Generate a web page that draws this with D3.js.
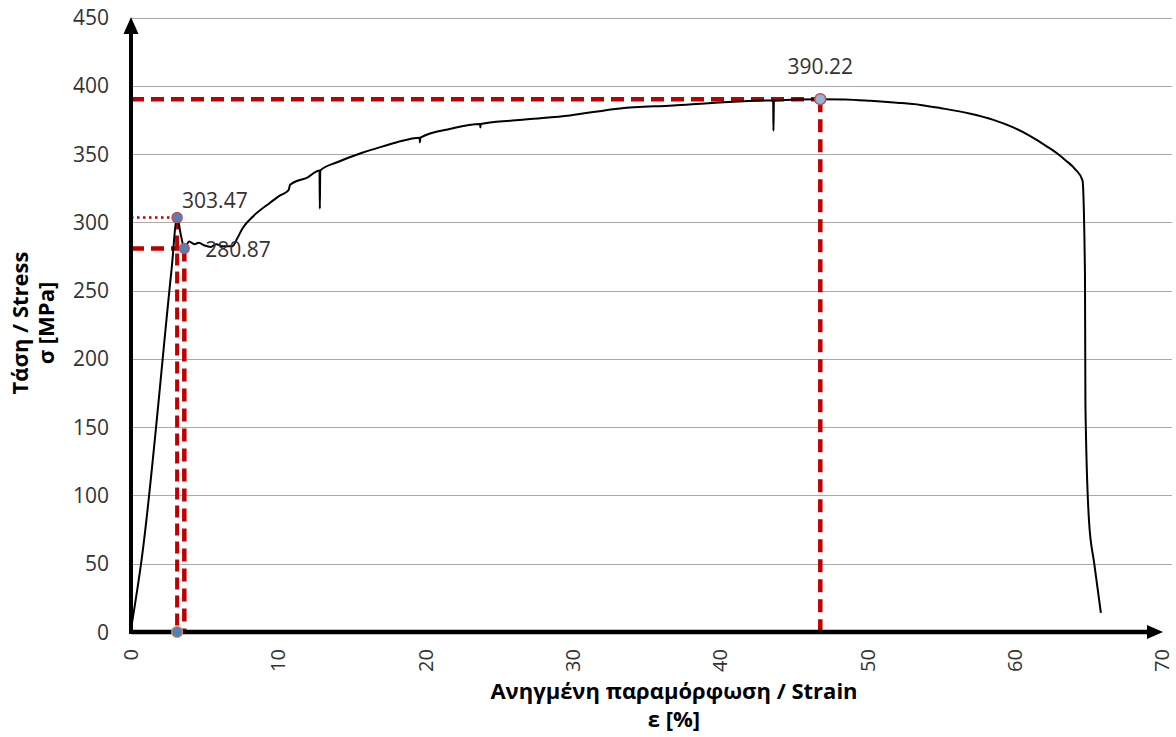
<!DOCTYPE html>
<html>
<head>
<meta charset="utf-8">
<script src="https://cdn.jsdelivr.net/npm/d3@7"></script>
<style>
  html, body { margin: 0; padding: 0; background: #ffffff; }
  svg { display: block; }
  text { font-family: "Open Sans", "Noto Sans", sans-serif; }
</style>
</head>
<body>
<svg id="chart" width="1176" height="737"></svg>
<script>
// Tensile test curve: engineering strain [%] vs stress [MPa]
const strain = [
  0, 0.72, 2.75, 3.13, 3.4, 3.62, 3.95, 4.3, 4.6, 5.0, 5.4, 5.8, 6.2, 6.9, 7.2, 7.6,
  8.3, 9.4, 10.1, 10.7, 10.8, 12.0, 12.8, 12.82, 12.85, 14.0, 15.7, 16.6, 18.0,
  19.6, 19.62, 19.65, 21.7, 23.7, 23.72, 23.75, 25.9, 26.9, 29.8, 33.2, 36.8, 40.0,
  43.6, 43.62, 43.65, 46.8, 48.5, 50.2, 52.0, 53.6, 55.0, 57.0, 58.5, 59.9, 61.0,
  62.2, 63.0, 63.5, 64.1, 64.6, 64.77, 64.8, 65.04, 65.4, 65.85
];
const stress = [
  2, 53, 265, 303.47, 290, 280.87, 286, 284, 285, 283, 282, 284, 282.5, 282.5, 288, 296,
  304.5, 314, 319.5, 323.5, 327.5, 333, 338, 310, 338, 344, 351, 354, 358.5,
  362, 358.5, 362, 368.5, 372, 369.5, 372, 374.5, 375.5, 378.3, 383.4, 385.6, 387.8,
  389.3, 367, 389.3, 390.22, 390.0, 389.0, 387.6, 386.0, 383.6, 379.5, 375.2, 369.5, 363.5,
  355.5, 349.5, 345, 339, 330.7, 262, 167,
  82, 50, 14
];

// Characteristic points: upper yield, lower yield, ultimate strength
const keyNames  = ["upperYield", "lowerYield", "ultimate"];
const keyStrain = [3.13, 3.62, 46.8];
const keyStress = [303.47, 280.87, 390.22];

// Axis ticks
const xTicks = [0, 10, 20, 30, 40, 50, 60, 70];
const yTicks = [0, 50, 100, 150, 200, 250, 300, 350, 400, 450];

const xTitle = ["Ανηγμένη παραμόρφωση / Strain", "ε [%]"];
const yTitle = ["Τάση / Stress", "σ [MPa]"];

const svg = d3.select("#chart");
const x = d3.scaleLinear().domain([0, 70]).range([131, 1162]);
const y = d3.scaleLinear().domain([0, 450]).range([632, 17.5]);
const red = "#c00000";

// Horizontal gridlines
svg.append("g").selectAll("line")
  .data(yTicks.filter(d => d > 0))
  .join("line")
  .attr("x1", x(0)).attr("x2", 1172)
  .attr("y1", d => Math.round(y(d)) + 0.5).attr("y2", d => Math.round(y(d)) + 0.5)
  .attr("stroke", "#a9a9a9").attr("stroke-width", 1);

// Y tick labels
svg.append("g").selectAll("text")
  .data(yTicks)
  .join("text")
  .attr("x", 109).attr("y", d => y(d))
  .attr("dy", "0.36em")
  .attr("text-anchor", "end")
  .attr("font-size", 21)
  .attr("fill", "#333")
  .text(d => d);

// X tick labels (rotated)
svg.append("g").selectAll("text")
  .data(xTicks)
  .join("text")
  .attr("transform", d => `translate(${x(d)},649) rotate(-90)`)
  .attr("dy", "0.36em")
  .attr("text-anchor", "end")
  .attr("font-size", 20)
  .attr("fill", "#333")
  .text(d => d);

// Reference lines to the characteristic points
const refs = svg.append("g").attr("fill", "none").attr("stroke", red);
// upper yield: dotted horizontal, dashed vertical
refs.append("line")
  .attr("x1", x(0)).attr("x2", x(keyStrain[0]))
  .attr("y1", y(keyStress[0])).attr("y2", y(keyStress[0]))
  .attr("stroke-width", 2.5).attr("stroke-dasharray", "2.5 3.5");
refs.append("line")
  .attr("x1", x(keyStrain[0])).attr("x2", x(keyStrain[0]))
  .attr("y1", y(keyStress[0])).attr("y2", y(0))
  .attr("stroke-width", 4).attr("stroke-dasharray", "12 6");
// lower yield and ultimate: dashed horizontal and vertical
[1, 2].forEach(i => {
  refs.append("line")
    .attr("x1", x(0)).attr("x2", x(keyStrain[i]))
    .attr("y1", y(keyStress[i])).attr("y2", y(keyStress[i]))
    .attr("stroke-width", 4.5).attr("stroke-dasharray", "13 7");
  refs.append("line")
    .attr("x1", x(keyStrain[i])).attr("x2", x(keyStrain[i]))
    .attr("y1", y(keyStress[i])).attr("y2", y(0))
    .attr("stroke-width", 4.5).attr("stroke-dasharray", "13 7");
});

// Stress-strain curve
const line = d3.line()
  .x((d, i) => x(strain[i]))
  .y((d, i) => y(stress[i]))
  .curve(d3.curveMonotoneX);
svg.append("path")
  .datum(strain)
  .attr("d", line)
  .attr("fill", "none")
  .attr("stroke", "#000")
  .attr("stroke-width", 2)
  .attr("stroke-linejoin", "round");

// Axes with arrowheads
const axes = svg.append("g");
axes.append("line")
  .attr("x1", x(0)).attr("x2", 1150)
  .attr("y1", y(0)).attr("y2", y(0))
  .attr("stroke", "#000").attr("stroke-width", 4.5);
axes.append("path")
  .attr("d", `M1147,${y(0) - 7} L1163,${y(0)} L1147,${y(0) + 7} Z`)
  .attr("fill", "#000");
axes.append("line")
  .attr("x1", x(0)).attr("x2", x(0))
  .attr("y1", y(0) + 2).attr("y2", 31)
  .attr("stroke", "#000").attr("stroke-width", 4);
axes.append("path")
  .attr("d", `M${x(0) - 7.5},34 L${x(0)},17 L${x(0) + 7.5},34 Z`)
  .attr("fill", "#000");

// Markers
const markers = svg.append("g");
markers.append("circle")
  .attr("cx", x(keyStrain[0])).attr("cy", y(0)).attr("r", 5.5)
  .attr("fill", "#4f81bd").attr("stroke", "#e58a4a").attr("stroke-width", 1.2);
markers.append("circle")
  .attr("cx", x(keyStrain[0])).attr("cy", y(keyStress[0])).attr("r", 5)
  .attr("fill", "#4f81bd").attr("stroke", "#c0504d").attr("stroke-width", 1.5);
markers.append("circle")
  .attr("cx", x(keyStrain[1])).attr("cy", y(keyStress[1])).attr("r", 5)
  .attr("fill", "#4f81bd").attr("stroke", "#c0504d").attr("stroke-width", 1.2);
markers.append("circle")
  .attr("cx", x(keyStrain[2])).attr("cy", y(keyStress[2])).attr("r", 5.5)
  .attr("fill", "#95b3d7").attr("stroke", "#c0504d").attr("stroke-width", 1.5);

// Value labels
const lab = svg.append("g").attr("font-size", 21).attr("fill", "#333");
lab.append("text")
  .attr("x", x(keyStrain[0]) + 5).attr("y", y(keyStress[0]) - 10)
  .text(keyStress[0].toFixed(2));
lab.append("text")
  .attr("x", x(keyStrain[1]) + 21).attr("y", y(keyStress[1]) + 9)
  .text(keyStress[1].toFixed(2));
lab.append("text")
  .attr("x", x(keyStrain[2])).attr("y", y(keyStress[2]) - 25)
  .attr("text-anchor", "middle")
  .text(keyStress[2].toFixed(2));

// Axis titles
svg.append("g").selectAll("text")
  .data(xTitle)
  .join("text")
  .attr("x", 674).attr("y", (d, i) => 699 + i * 28)
  .attr("text-anchor", "middle")
  .attr("font-size", 22).attr("font-weight", "bold").attr("fill", "#000")
  .text(d => d);

svg.append("g").selectAll("text")
  .data(yTitle)
  .join("text")
  .attr("transform", (d, i) => `translate(${28 + i * 26},323) rotate(-90)`)
  .attr("text-anchor", "middle")
  .attr("font-size", 22).attr("font-weight", "bold").attr("fill", "#000")
  .text(d => d);
</script>
</body>
</html>
